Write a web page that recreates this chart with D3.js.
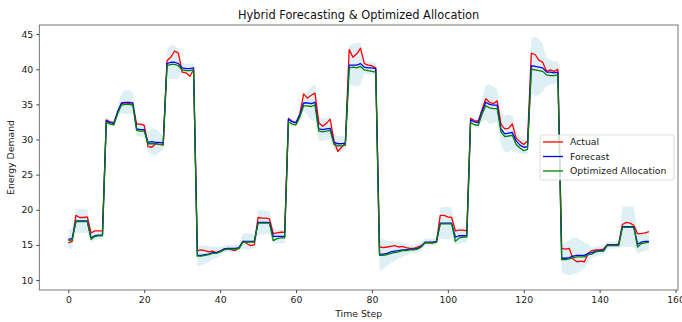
<!DOCTYPE html>
<html>
<head>
<meta charset="utf-8">
<script src="https://cdn.jsdelivr.net/npm/d3@7"></script>
<style>
  body { margin: 0; background: #fff; }
  svg { display: block; font-family: "DejaVu Sans", sans-serif; }
</style>
</head>
<body>
<svg id="chart"></svg>
<script>
// values, one per time step (0..153)
const actual = [
  15.3, 15.5, 19.2, 18.9, 18.9, 19.0, 16.7, 17.0, 17.0, 17.0,
  32.8, 32.5, 32.4, 33.8, 35.1, 35.2, 35.1, 35.0, 32.2, 32.2,
  32.0, 29.0, 28.9, 29.4, 29.3, 29.2, 41.2, 41.7, 42.6, 42.3,
  39.6, 39.5, 39.0, 39.9, 14.2, 14.3, 14.2, 14.0, 14.1, 13.9,
  14.1, 14.4, 14.5, 14.3, 14.2, 14.6, 15.5, 15.2, 14.9, 15.0,
  18.9, 18.8, 18.8, 18.7, 16.6, 16.7, 16.8, 16.8, 33.0, 32.6,
  32.4, 33.6, 36.5, 35.9, 36.3, 36.6, 32.4, 31.9, 32.3, 32.9,
  29.8, 28.3, 28.9, 29.5, 42.8, 41.7, 42.2, 43.0, 40.8, 40.6,
  40.5, 40.2, 14.7, 14.6, 14.7, 14.8, 14.9, 14.7, 14.8, 14.6,
  14.5, 14.5, 14.7, 14.9, 15.3, 15.3, 15.3, 15.4, 19.2, 19.2,
  19.0, 18.9, 17.0, 17.1, 17.1, 17.0, 33.0, 32.7, 32.6, 34.2,
  35.8, 35.3, 35.1, 35.5, 32.2, 31.5, 31.6, 32.2, 30.2, 29.7,
  29.3, 29.8, 42.3, 42.1, 41.3, 41.0, 39.7, 39.9, 39.7, 40.0,
  14.5, 14.4, 14.5, 13.0, 12.6, 12.7, 12.6, 13.8, 14.2, 14.3,
  14.3, 14.4, 15.0, 15.0, 15.0, 15.1, 17.9, 18.2, 18.1, 17.8,
  16.6, 16.6, 16.7, 16.9
];

const forecast = [
  15.8, 15.9, 18.4, 18.4, 18.4, 18.4, 16.0, 16.3, 16.4, 16.4,
  32.7, 32.4, 32.3, 34.0, 35.2, 35.3, 35.3, 35.2, 31.5, 31.4,
  31.4, 29.6, 29.7, 29.6, 29.6, 29.5, 40.8, 41.0, 41.0, 40.8,
  40.2, 40.1, 40.1, 40.2, 13.5, 13.5, 13.6, 13.7, 13.9, 13.9,
  14.1, 14.4, 14.5, 14.5, 14.5, 14.6, 15.5, 15.5, 15.5, 15.5,
  18.2, 18.2, 18.2, 18.2, 16.2, 16.2, 16.2, 16.2, 32.9, 32.5,
  32.4, 33.5, 35.2, 35.2, 35.1, 35.3, 31.5, 31.4, 31.5, 31.6,
  29.6, 29.4, 29.4, 29.5, 40.6, 40.6, 40.6, 40.8, 40.3, 40.2,
  40.2, 40.1, 13.7, 13.7, 13.8, 14.0, 14.1, 14.2, 14.3, 14.3,
  14.4, 14.4, 14.5, 14.8, 15.4, 15.4, 15.4, 15.5, 18.1, 18.1,
  18.1, 18.1, 16.1, 16.3, 16.3, 16.3, 32.8, 32.5, 32.4, 34.0,
  35.3, 35.0, 34.9, 34.9, 31.5, 30.8, 30.9, 31.0, 29.8, 29.2,
  28.9, 29.0, 40.5, 40.4, 40.3, 40.2, 39.6, 39.6, 39.5, 39.6,
  13.1, 13.1, 13.2, 13.4, 13.5, 13.5, 13.5, 13.8, 13.9, 14.1,
  14.2, 14.2, 15.0, 15.0, 15.0, 15.0, 17.6, 17.6, 17.6, 17.6,
  15.1, 15.4, 15.5, 15.5
];

const optimized = [
  15.6, 15.7, 18.3, 18.3, 18.3, 18.3, 15.8, 16.2, 16.3, 16.3,
  32.5, 32.2, 32.1, 33.7, 34.9, 35.0, 35.0, 34.9, 31.3, 31.2,
  31.2, 29.4, 29.4, 29.4, 29.3, 29.3, 40.5, 40.7, 40.7, 40.5,
  39.9, 39.8, 39.8, 39.9, 13.4, 13.4, 13.5, 13.6, 13.8, 13.8,
  14.0, 14.3, 14.4, 14.4, 14.4, 14.5, 15.4, 15.4, 15.4, 15.4,
  18.1, 18.1, 18.1, 18.1, 15.6, 15.9, 16.0, 16.0, 32.5, 32.2,
  32.1, 33.2, 34.8, 34.8, 34.7, 34.9, 31.2, 31.1, 31.2, 31.3,
  29.3, 29.1, 29.1, 29.2, 40.2, 40.3, 40.2, 40.4, 39.9, 39.8,
  39.7, 39.6, 13.5, 13.5, 13.6, 13.8, 13.9, 14.0, 14.2, 14.2,
  14.3, 14.3, 14.4, 14.7, 15.3, 15.3, 15.3, 15.4, 18.0, 18.0,
  18.0, 18.0, 15.5, 16.0, 16.1, 16.1, 32.4, 32.1, 32.0, 33.6,
  34.8, 34.5, 34.4, 34.4, 31.1, 30.4, 30.5, 30.6, 29.3, 28.8,
  28.4, 28.6, 40.0, 39.9, 39.8, 39.7, 39.2, 39.1, 39.1, 39.2,
  12.9, 12.9, 13.0, 13.2, 13.3, 13.3, 13.3, 13.6, 13.7, 14.0,
  14.1, 14.1, 14.9, 14.9, 14.9, 14.9, 17.5, 17.5, 17.5, 17.5,
  14.7, 15.2, 15.3, 15.4
];

// half width of the shaded band around the forecast
const spread = [
  1.4, 1.4, 1.6, 1.7, 1.7, 1.6, 0.7, 0.6, 0.6, 0.6,
  0.4, 0.4, 0.4, 0.8, 1.4, 1.7, 1.7, 1.5, 1.0, 1.0,
  1.0, 1.5, 1.9, 1.9, 1.4, 1.0, 2.0, 2.4, 2.4, 2.1,
  0.7, 0.7, 0.7, 0.7, 1.5, 1.4, 1.3, 1.1, 0.9, 0.8,
  0.6, 0.5, 0.5, 0.5, 0.5, 0.6, 1.1, 1.2, 1.1, 1.0,
  1.8, 1.8, 1.7, 1.6, 1.1, 1.0, 1.0, 0.9, 0.4, 0.4,
  0.4, 0.8, 1.2, 1.6, 2.4, 2.6, 1.7, 1.6, 1.6, 1.5,
  1.1, 1.1, 1.1, 1.0, 2.8, 3.0, 3.1, 3.0, 0.9, 0.9,
  0.9, 0.9, 2.4, 2.1, 1.8, 1.6, 1.4, 1.2, 1.0, 0.8,
  0.6, 0.6, 0.6, 0.6, 0.5, 0.5, 0.5, 0.5, 2.2, 2.3,
  2.3, 2.2, 1.1, 1.1, 1.0, 1.0, 0.5, 0.5, 0.5, 1.5,
  2.5, 2.8, 2.6, 2.3, 2.4, 2.6, 2.7, 2.4, 1.6, 1.2,
  1.0, 1.0, 4.0, 4.2, 4.0, 3.4, 2.0, 1.8, 1.6, 1.5,
  2.0, 2.3, 2.5, 2.6, 2.5, 2.2, 1.8, 1.3, 0.7, 0.7,
  0.7, 0.6, 0.5, 0.5, 0.5, 0.5, 2.8, 2.9, 2.9, 2.8,
  1.4, 1.4, 1.3, 1.3
];

const xTicks = [0, 20, 40, 60, 80, 100, 120, 140, 160];
const yTicks = [10, 15, 20, 25, 30, 35, 40, 45];

const seriesNames = ["Actual", "Forecast", "Optimized Allocation"];
const seriesColors = ["red", "blue", "green"];

const W = 682, H = 322;
const margin = {top: 25, right: 4, bottom: 32, left: 39.3};

const svg = d3.select("#chart").attr("width", W).attr("height", H);

const x = d3.scaleLinear().domain([-7.65, 160.65]).range([margin.left, W - margin.right]);
const y = d3.scaleLinear().domain([8.58, 46.3]).range([H - margin.bottom, margin.top]);

const steps = d3.range(actual.length);

// shaded band
const band = d3.area()
  .x(i => x(i))
  .y0(i => y(forecast[i] - spread[i]))
  .y1(i => y(forecast[i] + spread[i]));

svg.append("path")
  .datum(steps)
  .attr("d", band)
  .attr("fill", "lightblue")
  .attr("fill-opacity", 0.4);

// lines
const line = arr => d3.line().x(i => x(i)).y(i => y(arr[i]))(steps);
[actual, forecast, optimized].forEach((arr, k) => {
  svg.append("path")
    .attr("d", line(arr))
    .attr("fill", "none")
    .attr("stroke", seriesColors[k])
    .attr("stroke-width", 1.3)
    .attr("stroke-linejoin", "round");
});

// axes
const xAxis = svg.append("g")
  .attr("transform", `translate(0,${H - margin.bottom})`)
  .call(d3.axisBottom(x).tickValues(xTicks).tickSize(3).tickPadding(3));
const yAxis = svg.append("g")
  .attr("transform", `translate(${margin.left},0)`)
  .call(d3.axisLeft(y).tickValues(yTicks).tickSize(3).tickPadding(3));

[xAxis, yAxis].forEach(g => {
  g.select(".domain").remove();
  g.selectAll("line").attr("stroke", "#444");
  g.selectAll("text")
    .attr("fill", "#222")
    .style("font-size", "9.3px")
    .style("font-family", "DejaVu Sans");
});

// frame
svg.append("rect")
  .attr("x", margin.left)
  .attr("y", margin.top)
  .attr("width", W - margin.right - margin.left)
  .attr("height", H - margin.bottom - margin.top)
  .attr("fill", "none")
  .attr("stroke", "#555")
  .attr("stroke-width", 0.8);

// title and axis labels
const cx = (margin.left + W - margin.right) / 2;
svg.append("text")
  .attr("x", cx).attr("y", 19)
  .attr("text-anchor", "middle")
  .style("font-size", "11.4px")
  .attr("fill", "#111")
  .text("Hybrid Forecasting & Optimized Allocation");

svg.append("text")
  .attr("x", cx).attr("y", 317)
  .attr("text-anchor", "middle")
  .style("font-size", "9.3px")
  .attr("fill", "#222")
  .text("Time Step");

svg.append("text")
  .attr("transform", `translate(14,${(margin.top + H - margin.bottom) / 2}) rotate(-90)`)
  .attr("text-anchor", "middle")
  .style("font-size", "9.3px")
  .attr("fill", "#222")
  .text("Energy Demand");

// legend
const lg = svg.append("g").attr("transform", "translate(540,135)");
lg.append("rect")
  .attr("width", 134).attr("height", 45).attr("rx", 2)
  .attr("fill", "white").attr("fill-opacity", 0.8)
  .attr("stroke", "#d4d4d4").attr("stroke-width", 0.8);

seriesNames.forEach((name, k) => {
  const row = lg.append("g").attr("transform", `translate(0,${7 + k * 14.5})`);
  row.append("line")
    .attr("x1", 3).attr("x2", 23)
    .attr("stroke", seriesColors[k]).attr("stroke-width", 1.3);
  row.append("text")
    .attr("x", 30).attr("dy", "0.35em")
    .style("font-size", "9.3px")
    .attr("fill", "#222")
    .text(name);
});
</script>
</body>
</html>
